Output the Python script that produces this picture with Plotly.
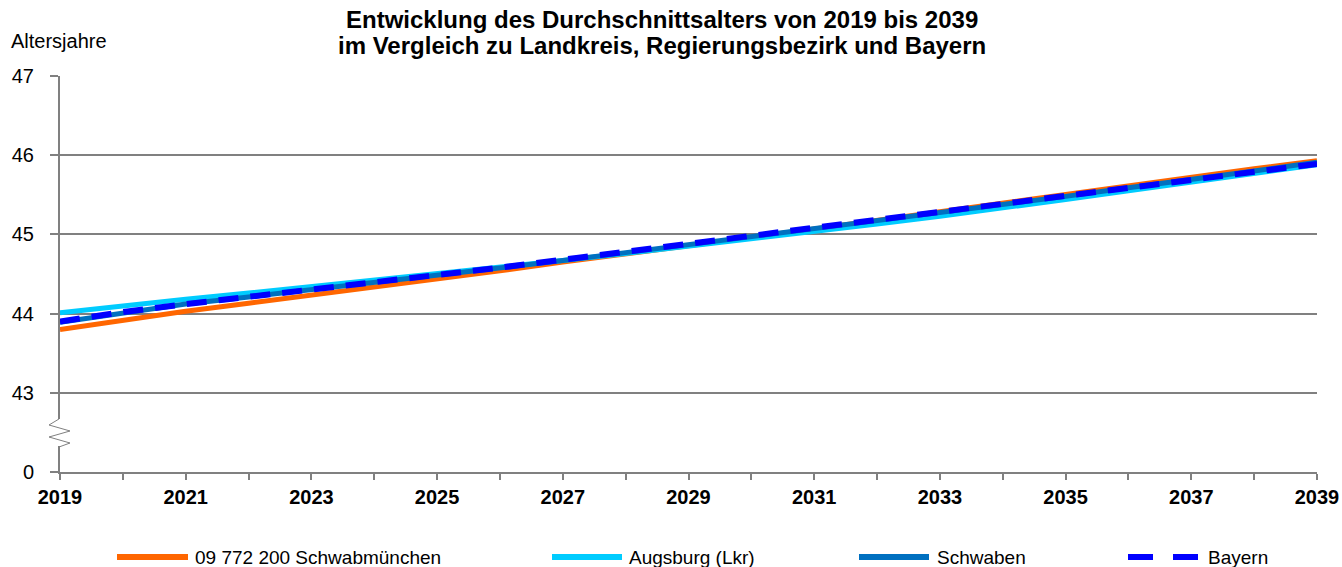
import plotly.graph_objects as go

years = list(range(2019, 2040))
series_names = ["09 772 200 Schwabmünchen", "Augsburg (Lkr)", "Schwaben", "Bayern"]
schwabmuenchen = [43.80, 43.92, 44.03, 44.13, 44.23, 44.33, 44.43, 44.54, 44.65, 44.75, 44.86,
                  44.96, 45.07, 45.18, 45.29, 45.40, 45.50, 45.61, 45.72, 45.83, 45.93]
augsburg = [44.01, 44.10, 44.18, 44.26, 44.34, 44.42, 44.50, 44.58, 44.67, 44.76, 44.85,
            44.94, 45.03, 45.13, 45.23, 45.33, 45.44, 45.55, 45.66, 45.77, 45.88]
schwaben = [43.89, 44.01, 44.12, 44.21, 44.30, 44.39, 44.48, 44.57, 44.67, 44.77, 44.87,
            44.97, 45.07, 45.17, 45.28, 45.38, 45.48, 45.59, 45.69, 45.80, 45.91]
bayern = [43.90, 44.02, 44.12, 44.21, 44.30, 44.39, 44.49, 44.58, 44.68, 44.78, 44.88,
          44.98, 45.08, 45.18, 45.28, 45.38, 45.48, 45.58, 45.68, 45.78, 45.89]
y_tickvals = [42, 43, 44, 45, 46, 47]
y_ticktext = ["0", "43", "44", "45", "46", "47"]
title_lines = ["Entwicklung des Durchschnittsalters von 2019 bis 2039",
               "im Vergleich zu Landkreis, Regierungsbezirk und Bayern"]

colors = ["#FF6600", "#00CCFF", "#0070C0", "#0000FF"]
dashes = ["solid", "solid", "solid", "20px,12px"]
widths = [5, 5, 5, 6]
values = [schwabmuenchen, augsburg, schwaben, bayern]
FONT = "Liberation Sans, Arial, sans-serif"

W, H = 1342, 567
L, R, T, B = 60, 25, 76, 95
pw, ph = W - L - R, H - T - B

def px(x):
    return (x - L) / pw

def py(y):
    return (H - B - y) / ph

fig = go.Figure()
for name, vals, c, d, w in zip(series_names, values, colors, dashes, widths):
    fig.add_trace(go.Scatter(x=years, y=vals, mode="lines", name=name,
                             line=dict(color=c, width=w, dash=d), showlegend=False))

shapes = []
# axis break marker
shapes.append(dict(type="rect", xref="paper", yref="paper", x0=px(56), x1=px(63), y0=py(446), y1=py(419),
                   fillcolor="white", line=dict(width=0), layer="above"))
zz = [(59, 419), (49, 425), (70, 431), (49, 437), (70, 443), (59, 447)]
path = "M " + " L ".join(f"{px(a):.5f},{py(b):.5f}" for a, b in zz)
shapes.append(dict(type="path", xref="paper", yref="paper", path=path,
                   line=dict(color="#808080", width=1), layer="above"))

# manual legend
leg_y = py(557)
leg_x = [(117, 188, 193), (552, 622, 627), (859, 929, 935), (1128, 1198, 1206)]
annotations = []
for (x0, x1, xt), name, c, d, w in zip(leg_x, series_names, colors, dashes, widths):
    shapes.append(dict(type="line", xref="paper", yref="paper", x0=px(x0), x1=px(x1), y0=leg_y, y1=leg_y,
                       line=dict(color=c, width=6, dash=("solid" if d == "solid" else "25px,20px"))))
    annotations.append(dict(xref="paper", yref="paper", x=px(xt), y=leg_y, text=name, showarrow=False,
                            xanchor="left", yanchor="middle",
                            font=dict(family=FONT, size=19, color="black")))

annotations.append(dict(xref="paper", yref="paper", x=px(9), y=py(41), text="Altersjahre", showarrow=False,
                        xanchor="left", yanchor="middle",
                        font=dict(family=FONT, size=20, color="black")))
for line, yc in zip(title_lines, [20, 45]):
    annotations.append(dict(xref="paper", yref="paper", x=px(662), y=py(yc), text=f"<b>{line}</b>",
                            showarrow=False, xanchor="center", yanchor="middle",
                            font=dict(family=FONT, size=24, color="black")))

fig.update_layout(
    width=W, height=H,
    margin=dict(l=L, r=R, t=T, b=B, autoexpand=False),
    paper_bgcolor="white", plot_bgcolor="white",
    xaxis=dict(range=[2019, 2039], tickvals=years, automargin=False,
               ticktext=[f"<b>{y}</b>" if (y - 2019) % 2 == 0 else "" for y in years],
               showgrid=False, zeroline=False, showline=True, linecolor="#808080", linewidth=2,
               ticks="outside", ticklen=6, tickcolor="#808080", tickwidth=1.5,
               tickfont=dict(family=FONT, size=20, color="black")),
    yaxis=dict(range=[42, 47], tickvals=y_tickvals, ticktext=y_ticktext, automargin=False,
               showgrid=True, gridcolor="#808080", gridwidth=1.5, zeroline=False,
               showline=True, linecolor="#808080", linewidth=2,
               ticks="outside", ticklen=8, tickcolor="#808080", tickwidth=1.5,
               ticklabelstandoff=12,
               tickfont=dict(family=FONT, size=20, color="black")),
    shapes=shapes, annotations=annotations,
)

fig.write_html("out.html", config={"displayModeBar": False},
               post_script="document.body.style.margin='0';document.body.style.padding='0';document.body.style.overflow='hidden';")
